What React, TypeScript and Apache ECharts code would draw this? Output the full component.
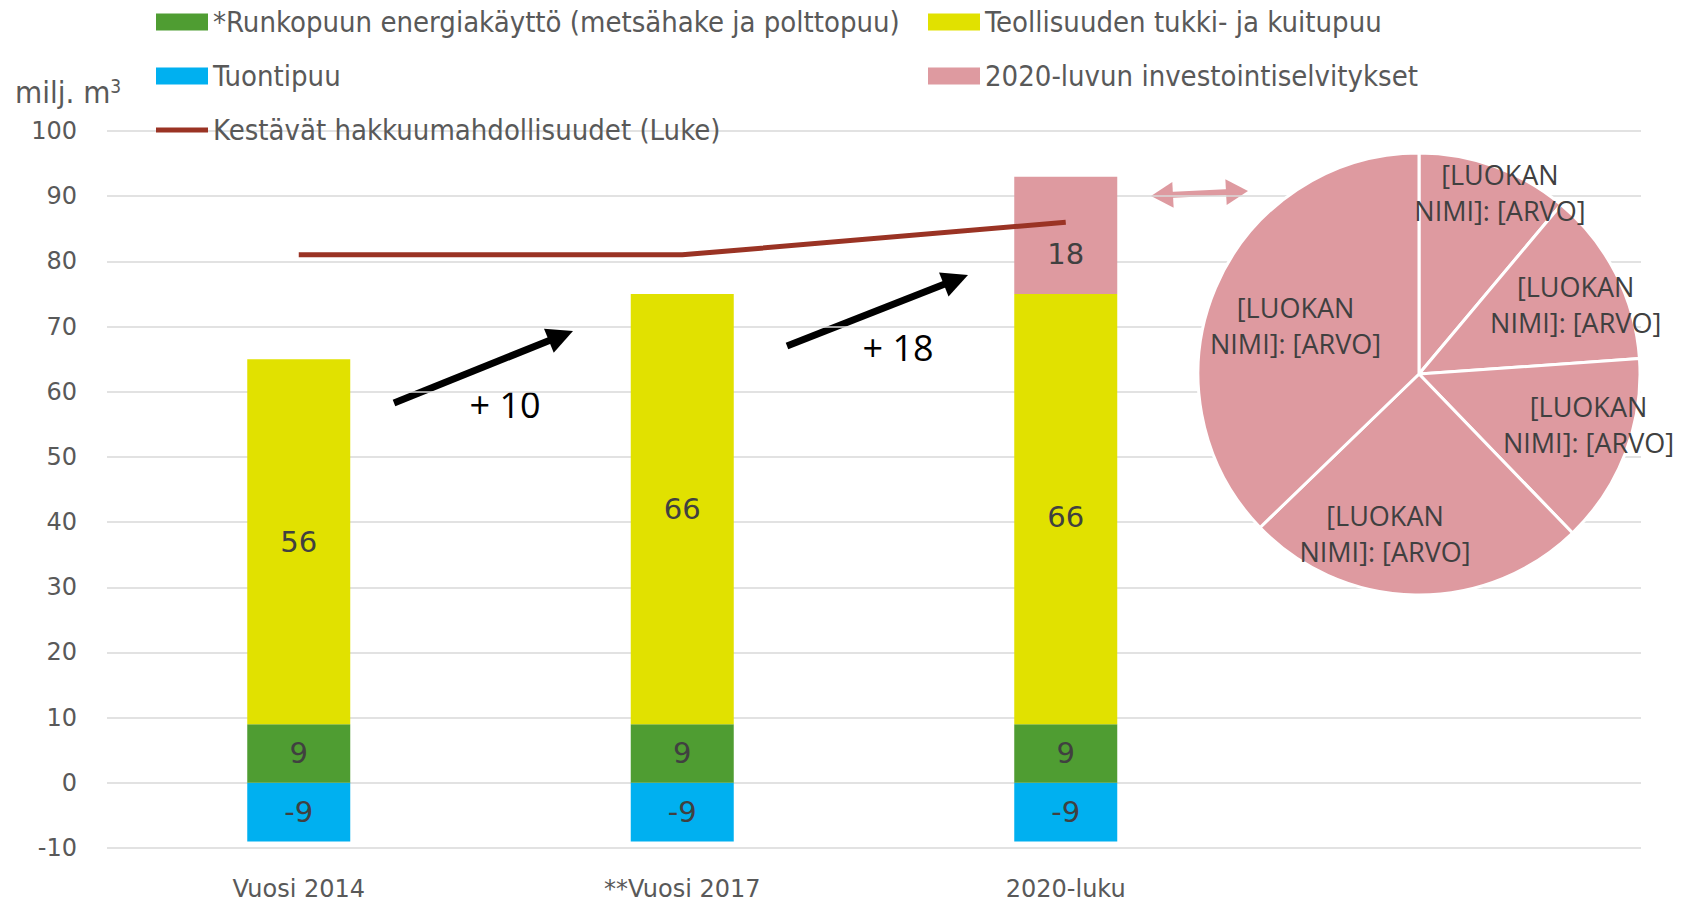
import React, { useEffect, useRef } from "react";
import * as echarts from "echarts";

const categories = ["Vuosi 2014", "**Vuosi 2017", "2020-luku", ""];
const tuontipuu = [-9, -9, -9, null];
const runkopuu = [9, 9, 9, null];
const teollisuus = [56, 66, 66, null];
const investoinnit = [null, null, 18, null];
const kestavat = [81, 81, 86, null];
const pieValues = [2.0, 2.3, 2.5, 4.5, 6.7];
const pieLabel = "[LUOKAN\nNIMI]: [ARVO]";
const yTicks = { min: -10, max: 100, interval: 10 };

const S_RUNKO = "*Runkopuun energiakäyttö (metsähake ja polttopuu)";
const S_TEOL = "Teollisuuden tukki- ja kuitupuu";
const S_TUONTI = "Tuontipuu";
const S_INV = "2020-luvun investointiselvitykset";
const S_KEST = "Kestävät hakkuumahdollisuudet (Luke)";

const COND = '"Liberation Sans Narrow", "DejaVu Sans Condensed", "Noto Sans", sans-serif';
const NUMF = '"DejaVu Sans", sans-serif';

function arrow(x1: number, y1: number, x2: number, y2: number, color: string, w: number, hl: number, hw: number, both: boolean) {
  const dx = x2 - x1, dy = y2 - y1;
  const L = Math.hypot(dx, dy);
  const ux = dx / L, uy = dy / L;
  const px = -uy, py = ux;
  const els: any[] = [];
  const sx = both ? x1 + ux * hl * 0.8 : x1;
  const sy = both ? y1 + uy * hl * 0.8 : y1;
  els.push({
    type: "line",
    shape: { x1: sx, y1: sy, x2: x2 - ux * hl * 0.8, y2: y2 - uy * hl * 0.8 },
    style: { stroke: color, lineWidth: w },
  });
  const head = (tx: number, ty: number, vx: number, vy: number) => ({
    type: "polygon",
    shape: {
      points: [
        [tx, ty],
        [tx - vx * hl + px * hw, ty - vy * hl + py * hw],
        [tx - vx * hl - px * hw, ty - vy * hl - py * hw],
      ],
    },
    style: { fill: color },
  });
  els.push(head(x2, y2, ux, uy));
  if (both) els.push(head(x1, y1, -ux, -uy));
  return els;
}

export default function App() {
  const ref = useRef<HTMLDivElement>(null);
  useEffect(() => {
    const chart = echarts.init(ref.current!, null, { renderer: "svg" });
    const R = 221;
    const CX = 1419, CY = 374;
    const total = pieValues.reduce((a, b) => a + b, 0);
    // label placement inside each slice: radial fraction and angle shift (deg)
    const fr = [0.9, 0.776, 0.8, 0.74, 0.6];
    const shift = [4, 3, -4.5, 11, -1.6];
    let acc = 0;
    const mids = pieValues.map((v) => {
      const m = ((acc + v / 2) / total) * 360;
      acc += v;
      return m;
    });
    const barLabel = {
      show: true,
      position: "inside",
      color: "#404040",
      fontSize: 29,
      fontFamily: NUMF,
    };
    const legendText = { fontSize: 29, lineHeight: 34, color: "#595959", fontFamily: COND };
    const lineIcon = "path://M0,0 L52,0 L52,5 L0,5 Z";
    const option: any = {
      animation: false,
      backgroundColor: "#ffffff",
      grid: { left: 107, right: 43, top: 131, bottom: 55 },
      legend: [
        {
          left: 151,
          top: 0,
          orient: "vertical",
          icon: "rect",
          itemWidth: 52,
          itemHeight: 17,
          itemGap: 20,
          data: [S_RUNKO, S_TUONTI, { name: S_KEST, icon: lineIcon }],
          textStyle: legendText,
        },
        {
          left: 923,
          top: 0,
          orient: "vertical",
          icon: "rect",
          itemWidth: 52,
          itemHeight: 17,
          itemGap: 20,
          data: [S_TEOL, S_INV],
          textStyle: legendText,
        },
      ],
      xAxis: {
        type: "category",
        data: categories,
        axisLine: { show: false },
        axisTick: { show: false },
        axisLabel: { color: "#595959", fontSize: 24, lineHeight: 26, fontFamily: NUMF, margin: 28 },
      },
      yAxis: {
        type: "value",
        min: yTicks.min,
        max: yTicks.max,
        interval: yTicks.interval,
        axisLabel: { color: "#595959", fontSize: 24, fontFamily: NUMF, margin: 30 },
        splitLine: { lineStyle: { color: "#D9D9D9", width: 1.5 } },
        axisLine: { show: false },
        axisTick: { show: false },
      },
      series: [
        {
          name: S_TUONTI,
          type: "bar",
          stack: "s",
          barWidth: 103,
          data: tuontipuu,
          itemStyle: { color: "#00B0F0" },
          label: barLabel,
        },
        {
          name: S_RUNKO,
          type: "bar",
          stack: "s",
          barWidth: 103,
          data: runkopuu,
          itemStyle: { color: "#4F9D32" },
          label: barLabel,
        },
        {
          name: S_TEOL,
          type: "bar",
          stack: "s",
          barWidth: 103,
          data: teollisuus.map((v, i) => (i === 2 ? { value: v, label: { offset: [0, 8] } } : v)),
          itemStyle: { color: "#E1E100" },
          label: barLabel,
        },
        {
          name: S_INV,
          type: "bar",
          stack: "s",
          barWidth: 103,
          data: investoinnit,
          itemStyle: { color: "#DE9AA0" },
          label: { ...barLabel, offset: [0, 19] },
        },
        {
          name: S_KEST,
          type: "line",
          data: kestavat,
          symbol: "none",
          lineStyle: { color: "#9A3324", width: 5 },
          itemStyle: { color: "#9A3324" },
          z: 5,
        },
        {
          name: "pie",
          type: "pie",
          center: [CX, CY],
          radius: [0, R],
          startAngle: 90,
          clockwise: true,
          data: pieValues.map((v, i) => ({ value: v, name: "s" + i })),
          itemStyle: { color: "#DE9AA0", borderColor: "#ffffff", borderWidth: 3 },
          label: {
            show: true,
            position: "inside",
            formatter: () => pieLabel,
            color: "#404040",
            fontSize: 27,
            lineHeight: 36,
            fontFamily: '"Open Sans", sans-serif',
            align: "center",
          },
          labelLine: { show: false },
          labelLayout: (p: any) => {
            const i = p.dataIndex;
            const a = ((mids[i] + shift[i]) * Math.PI) / 180;
            const d = fr[i] * R;
            return { x: CX + Math.sin(a) * d, y: CY - Math.cos(a) * d, align: "center", verticalAlign: "middle" };
          },
          emphasis: { disabled: true },
        },
      ],
      graphic: [
        {
          type: "text",
          left: 15,
          top: 76,
          style: {
            text: "milj. m{sup|3}",
            fontSize: 31,
            fontFamily: COND,
            fill: "#595959",
            rich: { sup: { fontSize: 19, verticalAlign: "top", padding: [0, 0, 12, 0], fill: "#595959", fontFamily: COND } },
          },
        },
        ...arrow(394, 403, 573, 331, "#000000", 7, 26, 13, false),
        ...arrow(787, 346, 968, 275, "#000000", 7, 26, 13, false),
        ...arrow(1151, 196, 1248, 191, "#DE9AA0", 6, 22, 13, true),
        {
          type: "text",
          x: 505,
          y: 404,
          style: { text: "+ 10", fontSize: 36, fontFamily: '"Open Sans", sans-serif', fill: "#000", align: "center", verticalAlign: "middle" },
        },
        {
          type: "text",
          x: 898,
          y: 347,
          style: { text: "+ 18", fontSize: 36, fontFamily: '"Open Sans", sans-serif', fill: "#000", align: "center", verticalAlign: "middle" },
        },
      ],
    };
    chart.setOption(option);
    return () => chart.dispose();
  }, []);
  return <div ref={ref} style={{ position: "fixed", left: 0, top: 0, width: 1684, height: 903, background: "#fff" }} />;
}
